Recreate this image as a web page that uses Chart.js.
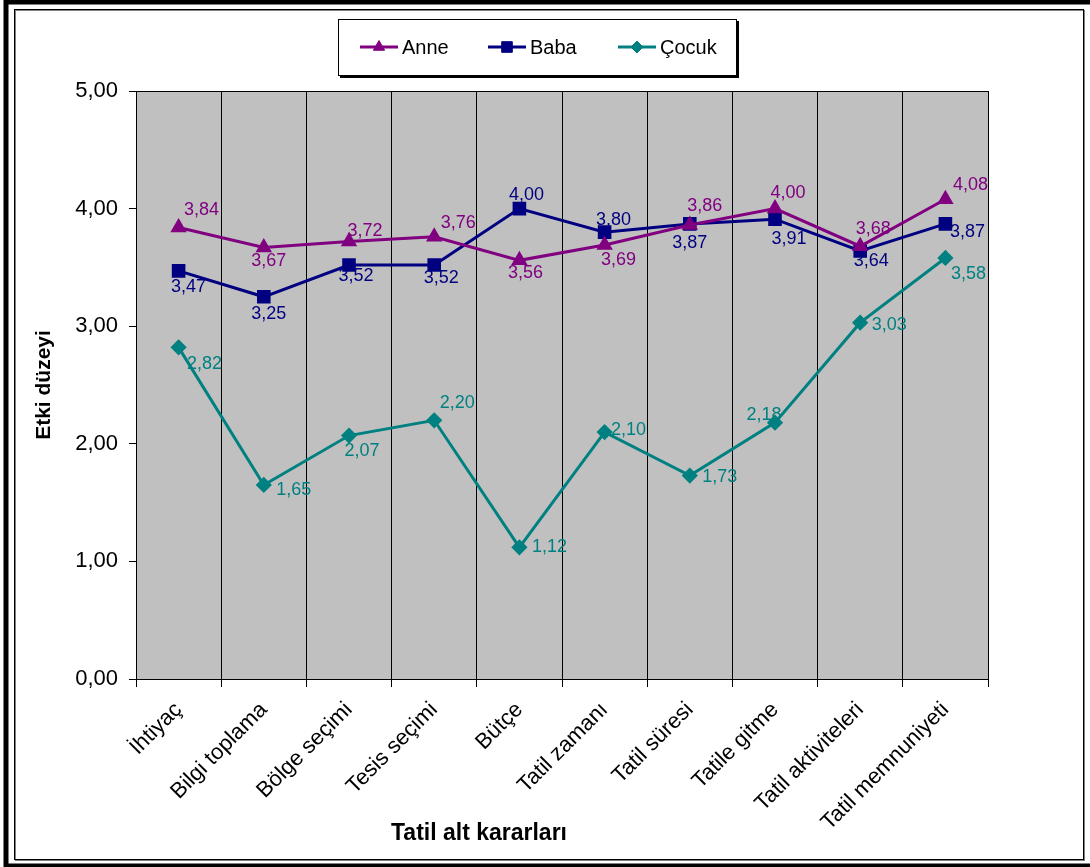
<!DOCTYPE html>
<html>
<head>
<meta charset="utf-8">
<script src="https://cdn.jsdelivr.net/npm/chart.js@4.4.1/dist/chart.umd.min.js"></script>
<style>
  html, body { margin: 0; padding: 0; background: #fff; }
  #wrap { width: 1090px; height: 867px; }
</style>
</head>
<body>
<div id="wrap"><canvas id="chart" width="1090" height="867"></canvas></div>
<script>
const categories = ["İhtiyaç", "Bilgi toplama", "Bölge seçimi", "Tesis seçimi", "Bütçe",
  "Tatil zamanı", "Tatil süresi", "Tatile gitme", "Tatil aktiviteleri", "Tatil memnuniyeti"];
const anne = [3.84, 3.67, 3.72, 3.76, 3.56, 3.69, 3.86, 4.00, 3.68, 4.08];
const baba = [3.47, 3.25, 3.52, 3.52, 4.00, 3.80, 3.87, 3.91, 3.64, 3.87];
const cocuk = [2.82, 1.65, 2.07, 2.20, 1.12, 2.10, 1.73, 2.18, 3.03, 3.58];
const yTicks = [0, 1, 2, 3, 4, 5];

// label offsets (px) from each point, the way Excel placed them
const anneLabelPos = [[23,-17],[5,14],[16,-10],[24,-14],[6,13],[14,15],[15,-19],[13,-16],[13,-17],[25,-14]];
const babaLabelPos = [[10,16],[5,17],[7,11],[7,13],[7,-14],[9,-12],[0,19],[14,20],[11,10],[22,8]];
const cocukLabelPos = [[26,17],[30,5],[13,15],[23,-17],[30,0],[24,-2],[30,1],[-11,-8],[29,2],[23,16]];

const FONT = "'Liberation Sans', Arial, sans-serif";
const fmt = v => v.toFixed(2).replace('.', ',');

const framePlugin = {
  id: 'frame',
  beforeDraw(chart) {
    const ctx = chart.ctx;
    const a = chart.chartArea;
    ctx.save();
    ctx.fillStyle = '#fff';
    ctx.fillRect(0, 0, chart.width, chart.height);
    // outer thick frame
    ctx.strokeStyle = '#000';
    ctx.lineWidth = 5;
    ctx.strokeRect(6, 2, 1092, 864);
    // inner thin frame with shadow
    ctx.lineWidth = 1;
    ctx.strokeStyle = '#808080';
    ctx.strokeRect(15.5, 10.5, 1069, 850);
    ctx.strokeStyle = '#000';
    ctx.strokeRect(14.5, 9.5, 1069, 850);
    // plot background
    ctx.fillStyle = '#c0c0c0';
    ctx.fillRect(a.left, a.top, a.right - a.left, a.bottom - a.top);
    ctx.restore();
  },
  afterDraw(chart) {
    const ctx = chart.ctx;
    const a = chart.chartArea;
    ctx.save();
    ctx.strokeStyle = '#000';
    ctx.lineWidth = 1;
    ctx.strokeRect(a.left + 0.5, a.top + 0.5, a.right - a.left, a.bottom - a.top);

    // x axis title
    ctx.fillStyle = '#000';
    ctx.font = 'bold 23px ' + FONT;
    ctx.textAlign = 'center';
    ctx.textBaseline = 'middle';
    ctx.fillText('Tatil alt kararları', 479, 834);

    // legend box
    const bx = 338, by = 19, bw = 399, bh = 57;
    ctx.fillStyle = '#000';
    ctx.fillRect(bx + 2, by + 2, bw, bh);
    ctx.fillStyle = '#fff';
    ctx.fillRect(bx, by, bw, bh);
    ctx.strokeStyle = '#000';
    ctx.strokeRect(bx + 0.5, by + 0.5, bw - 1, bh - 1);
    const starts = [360, 488, 618];
    const ly = 47;
    chart.data.datasets.forEach((ds, i) => {
      const x0 = starts[i];
      ctx.strokeStyle = ds.borderColor;
      ctx.fillStyle = ds.borderColor;
      ctx.lineWidth = 3;
      ctx.beginPath();
      ctx.moveTo(x0, ly);
      ctx.lineTo(x0 + 38, ly);
      ctx.stroke();
      ctx.lineWidth = 1;
      Chart.helpers.drawPoint(ctx, {
        pointStyle: ds.pointStyle, radius: ds.pointRadius, borderWidth: 1
      }, x0 + 19, ly);
      ctx.fillStyle = '#000';
      ctx.font = '20px ' + FONT;
      ctx.textAlign = 'left';
      ctx.fillText(ds.label, x0 + 42, ly + 1);
    });
    ctx.restore();
  },
  afterDatasetsDraw(chart) {
    const ctx = chart.ctx;
    ctx.save();
    ctx.font = '18px ' + FONT;
    ctx.textAlign = 'center';
    ctx.textBaseline = 'middle';
    chart.data.datasets.forEach((ds, i) => {
      const meta = chart.getDatasetMeta(i);
      ctx.fillStyle = ds.borderColor;
      meta.data.forEach((pt, j) => {
        const off = ds.labelPos[j];
        ctx.fillText(fmt(ds.data[j]), pt.x + off[0], pt.y + off[1]);
      });
    });
    ctx.restore();
  }
};

function series(label, data, color, style, radius, labelPos) {
  return {
    label: label,
    data: data,
    borderColor: color,
    backgroundColor: color,
    pointBackgroundColor: color,
    pointBorderColor: color,
    pointStyle: style,
    pointRadius: radius,
    pointHoverRadius: radius,
    borderWidth: 3,
    tension: 0,
    labelPos: labelPos
  };
}

new Chart(document.getElementById('chart'), {
  type: 'line',
  data: {
    labels: categories,
    datasets: [
      series('Anne', anne, '#800080', 'triangle', 6.5, anneLabelPos),
      series('Baba', baba, '#000080', 'rect', 7.5, babaLabelPos),
      series('Çocuk', cocuk, '#008080', 'rectRot', 6, cocukLabelPos)
    ]
  },
  options: {
    responsive: false,
    animation: false,
    events: [],
    layout: { padding: { top: 91, right: 102, left: 0, bottom: 0 } },
    plugins: { legend: { display: false }, tooltip: { enabled: false } },
    scales: {
      x: {
        offset: true,
        grid: { offset: true, color: '#000', lineWidth: 1, tickLength: 8, drawOnChartArea: true },
        border: { color: '#000' },
        ticks: {
          color: '#000', font: { family: FONT, size: 22 },
          minRotation: 45, maxRotation: 45, autoSkip: false, padding: 10
        },
        afterFit(scale) { scale.height = 188; }
      },
      y: {
        min: 0, max: 5,
        afterBuildTicks(scale) { scale.ticks = yTicks.map(v => ({ value: v })); },
        grid: { drawOnChartArea: false, color: '#000', tickLength: 7 },
        border: { color: '#000' },
        ticks: {
          color: '#000', font: { family: FONT, size: 22 }, padding: 11,
          callback: v => fmt(v)
        },
        title: {
          display: true, text: 'Etki düzeyi', color: '#000',
          font: { family: FONT, size: 21, weight: 'bold' },
          padding: { top: 32 }
        },
        afterFit(scale) { scale.width = 136; }
      }
    }
  },
  plugins: [framePlugin]
});
</script>
</body>
</html>
